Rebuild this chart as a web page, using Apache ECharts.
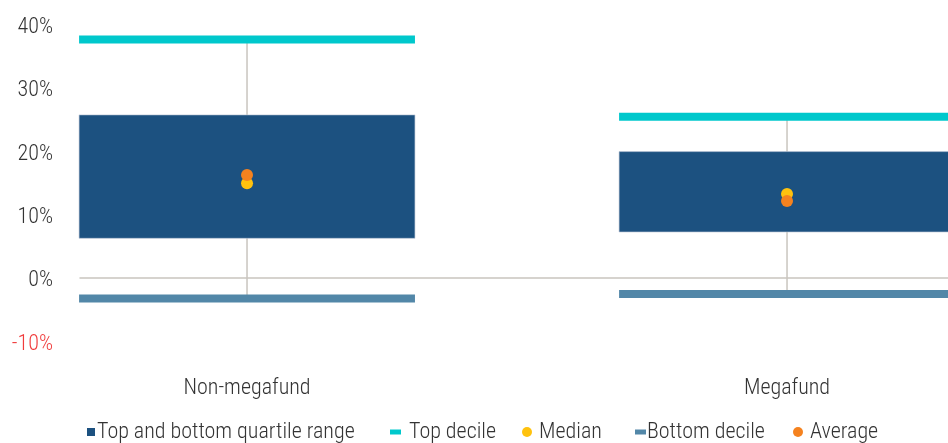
<!DOCTYPE html>
<html>
<head>
<meta charset="utf-8">
<script src="https://cdn.jsdelivr.net/npm/echarts@6/dist/echarts.min.js"></script>
<style>
html,body{margin:0;padding:0;background:#fff;}
#chart{width:948px;height:443px;}
</style>
</head>
<body>
<div id="chart"></div>
<script>
// ---- data ----
var categories = ['Non-megafund', 'Megafund'];
var topDecile = [37.7, 25.5];
var upperQuartile = [25.8, 20.0];
var lowerQuartile = [6.3, 7.3];
var median = [15.0, 13.3];
var average = [16.3, 12.2];
var bottomDecile = [-3.2, -2.5];
var seriesNames = ['Top and bottom quartile range', 'Top decile', 'Median', 'Bottom decile', 'Average'];

var FONT = '"Roboto Condensed", "Noto Sans", sans-serif';
var FW = 300;
var C_BOX = '#1C5180', C_TOP = '#00C8CC', C_MED = '#FFC20E', C_BOT = '#5287A8', C_AVG = '#F5821F', C_GREY = '#C9C5BF';

var chart = echarts.init(document.getElementById('chart'), null, {renderer: 'canvas'});

var idx = categories.map(function (c, i) { return i; });
var whiskerData = idx.map(function (i) { return [i, bottomDecile[i], topDecile[i]]; });
var boxData = idx.map(function (i) { return [i, lowerQuartile[i], upperQuartile[i]]; });
var topData = idx.map(function (i) { return [i, topDecile[i]]; });
var botData = idx.map(function (i) { return [i, bottomDecile[i]]; });
var medData = idx.map(function (i) { return [i, median[i]]; });
var avgData = idx.map(function (i) { return [i, average[i]]; });

var BOX_FRAC = 0.622;

function renderWhisker(params, api) {
  var a = api.coord([api.value(0), api.value(1)]);
  var b = api.coord([api.value(0), api.value(2)]);
  return {type: 'line', shape: {x1: a[0], y1: a[1], x2: b[0], y2: b[1]}, style: {stroke: C_GREY, lineWidth: 1.5}};
}
function renderBox(params, api) {
  var lo = api.coord([api.value(0), api.value(1)]);
  var hi = api.coord([api.value(0), api.value(2)]);
  var w = api.size([1, 0])[0] * BOX_FRAC;
  return {type: 'rect', shape: {x: lo[0] - w / 2, y: hi[1], width: w, height: lo[1] - hi[1]},
    style: {fill: C_BOX, stroke: 'rgba(190,200,215,0.8)', lineWidth: 0.8}};
}
function makeTick(color) {
  return function (params, api) {
    var p = api.coord([api.value(0), api.value(1)]);
    var w = api.size([1, 0])[0] * BOX_FRAC;
    return {type: 'rect', shape: {x: p[0] - w / 2, y: p[1] - 4, width: w, height: 8}, style: {fill: color}};
  };
}

function legend(name, left, icon, w, h, color, padLeft) {
  return {
    top: 421, itemGap: 0, padding: 0, selectedMode: false,
    left: left, itemWidth: w, itemHeight: h,
    textStyle: {fontFamily: FONT, fontWeight: FW, fontSize: 22, color: '#333333', padding: [0, 0, 0, padLeft]},
    data: [{name: name, icon: icon, itemStyle: {color: color}}]
  };
}

chart.setOption({
  animation: false,
  backgroundColor: '#ffffff',
  grid: [{left: 80, right: 0, top: 25, bottom: 101.5}],
  legend: [
    legend(seriesNames[0], 87, 'rect', 8, 8, C_BOX, -3),
    legend(seriesNames[1], 390, 'rect', 11, 5, C_TOP, 3),
    legend(seriesNames[2], 522, 'circle', 10, 10, C_MED, 2),
    legend(seriesNames[3], 635, 'rect', 11, 5, C_BOT, -4),
    legend(seriesNames[4], 793, 'circle', 10, 10, C_AVG, 2)
  ],
  xAxis: [
    {type: 'value', min: -0.3093, max: 1.2981,
      axisLine: {show: true, onZero: true, lineStyle: {color: C_GREY, width: 1.5}},
      axisTick: {show: false}, splitLine: {show: false},
      axisLabel: {show: true, customValues: idx, margin: 36, fontFamily: FONT, fontWeight: FW, fontSize: 22, color: '#333333',
        formatter: function (v) { return categories[Math.round(v)]; }}}
  ],
  yAxis: [
    {type: 'value', min: -10, max: 40, interval: 10,
      axisLine: {show: false}, axisTick: {show: false}, splitLine: {show: false},
      axisLabel: {margin: 27, fontFamily: FONT, fontWeight: FW, fontSize: 22,
        verticalAlign: 'top', lineHeight: 5,
        formatter: '{value}%',
        color: function (v) { return Number(v) < 0 ? '#F03C3C' : '#333333'; }}}
  ],
  series: [
    {type: 'custom', name: 'whisker', renderItem: renderWhisker, data: whiskerData, z: 1, silent: true},
    {type: 'custom', name: seriesNames[0], renderItem: renderBox, data: boxData, z: 2, itemStyle: {color: C_BOX}},
    {type: 'custom', name: seriesNames[1], renderItem: makeTick(C_TOP), data: topData, z: 3, itemStyle: {color: C_TOP}},
    {type: 'custom', name: seriesNames[3], renderItem: makeTick(C_BOT), data: botData, z: 3, itemStyle: {color: C_BOT}},
    {type: 'scatter', name: seriesNames[2], data: medData, symbol: 'circle', symbolSize: 12, z: 4, itemStyle: {color: C_MED, opacity: 1}},
    {type: 'scatter', name: seriesNames[4], data: avgData, symbol: 'circle', symbolSize: 12, z: 5, itemStyle: {color: C_AVG, opacity: 1}}
  ]
});
</script>
</body>
</html>
